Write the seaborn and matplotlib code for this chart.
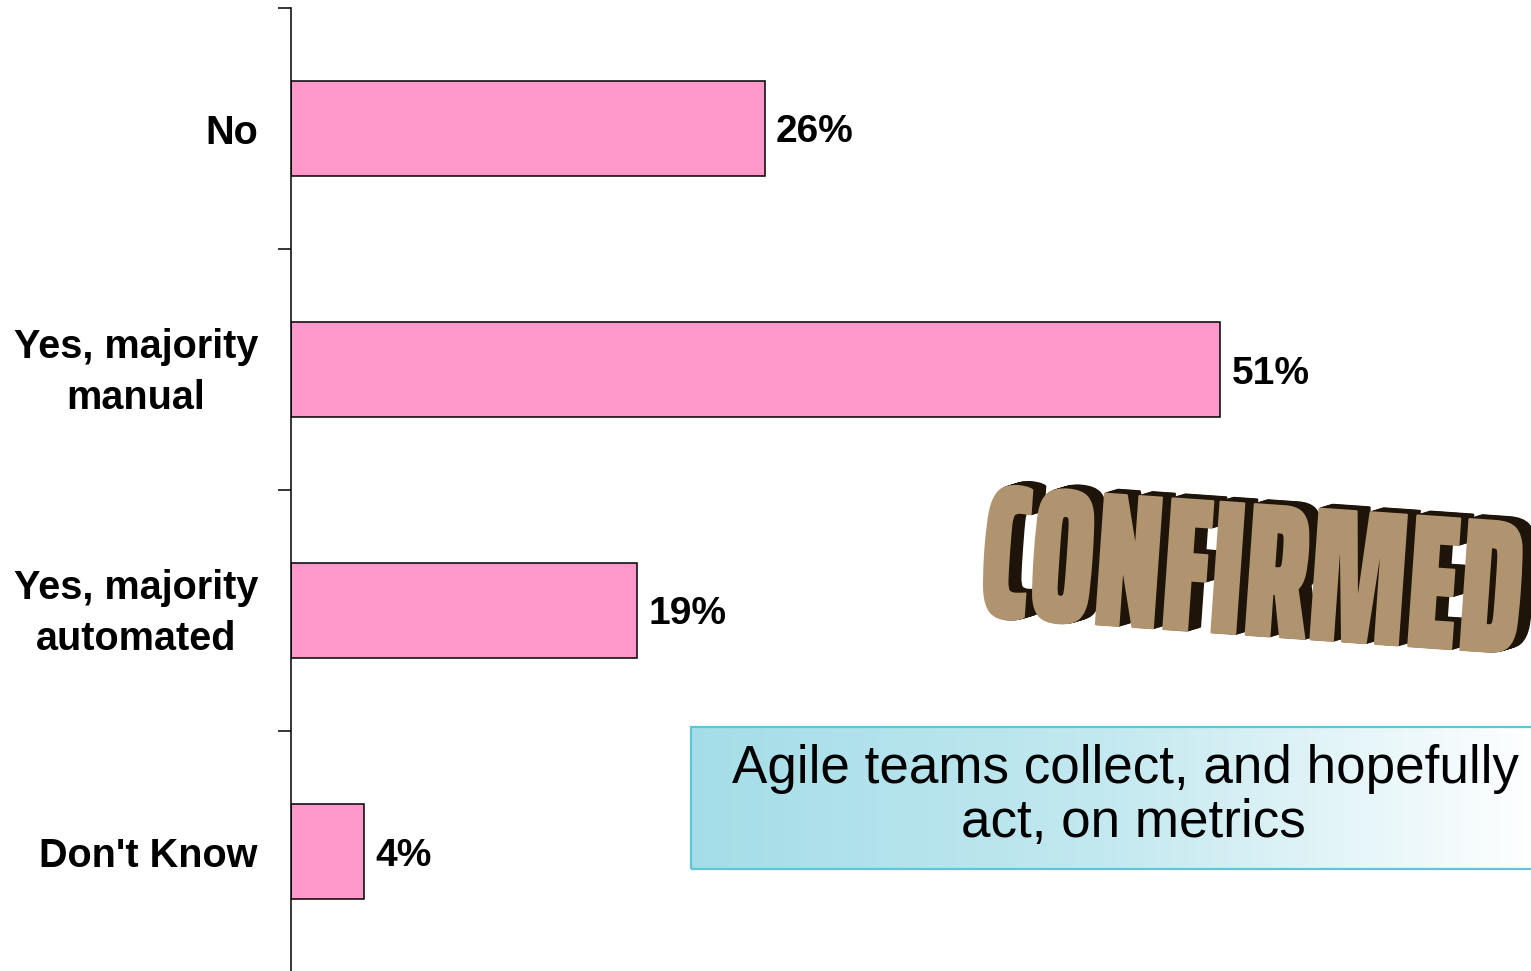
import numpy as np
import matplotlib
matplotlib.use("Agg")
import matplotlib.pyplot as plt
import seaborn as sns
from matplotlib import patheffects
from matplotlib.colors import LinearSegmentedColormap, to_rgba
from matplotlib.font_manager import FontProperties
from matplotlib.patches import Rectangle
from matplotlib.textpath import TextPath
from matplotlib.transforms import Affine2D, ScaledTranslation

# Survey answers and their shares (%)
categories = ["No", "Yes, majority\nmanual", "Yes, majority\nautomated", "Don't Know"]
shares = [26, 51, 19, 4]
value_labels = [f"{v}%" for v in shares]
callout_text = "Agile teams collect, and hopefully \nact, on metrics"
stamp_text = "CONFIRMED"

W, H, DPI = 1531, 971, 100
BAR_COLOR = "#ff99cc"

sns.set_theme(style="white")
plt.rcParams["font.family"] = ["Liberation Sans", "DejaVu Sans"]

fig = plt.figure(figsize=(W / DPI, H / DPI), dpi=DPI)
fig.patch.set_facecolor("white")

# ---- bar chart -------------------------------------------------------------
ax = fig.add_axes([291 / W, -1 / H, 1 - 291 / W, 964 / H])
sns.barplot(x=shares, y=categories, orient="h", color=BAR_COLOR, saturation=1,
            width=95 / 241, edgecolor="black", linewidth=1.1, ax=ax)
ax.set_xlim(0, (W - 291) / 18.22)
ax.set_ylim(3.5, -0.5)
ax.set_xlabel("")
ax.set_ylabel("")

for side in ("top", "right", "bottom"):
    ax.spines[side].set_visible(False)
ax.spines["left"].set_color("black")
ax.spines["left"].set_linewidth(1.1)

ax.tick_params(axis="x", bottom=False, labelbottom=False)
ax.set_yticks(np.arange(-0.5, len(categories)), minor=True)
ax.tick_params(axis="y", which="minor", left=True, length=9.4, width=1.1,
               color="black", direction="out")
ax.tick_params(axis="y", which="major", left=False, length=0, pad=23.8)
for lab in ax.get_yticklabels():
    lab.set_fontsize(28.5)
    lab.set_fontweight("bold")
    lab.set_color("black")
    lab.set_multialignment("center")
    lab.set_linespacing(1.45)
    if "\n" in lab.get_text():
        lab.set_verticalalignment("center")
        lab.set_transform(lab.get_transform()
                          + ScaledTranslation(0, -3 / DPI, fig.dpi_scale_trans))

for ann in ax.bar_label(ax.containers[0], labels=value_labels, padding=8.2,
                        fontsize=28, fontweight="bold", color="black"):
    ann.set_verticalalignment("center_baseline")

# ---- callout box with a cyan-to-white fade --------------------------------
bx0, by0, bx1, by1 = 691, 727, 1540, 869
box_ax = fig.add_axes([bx0 / W, 1 - by1 / H, (bx1 - bx0) / W, (by1 - by0) / H])
fade = LinearSegmentedColormap.from_list("fade", ["#a4dde8", "#c4e9f0", "#ffffff"])
box_ax.imshow(np.linspace(0, 1, 512)[None, :], aspect="auto", cmap=fade,
              extent=[0, 1, 0, 1])
box_ax.set_xlim(0, 1)
box_ax.set_ylim(0, 1)
box_ax.set_axis_off()
box_ax.add_patch(Rectangle((0, 0), 1, 1, transform=box_ax.transAxes, fill=False,
                           edgecolor="#5ec6d6", linewidth=1.6, clip_on=False))
fig.text(1133 / W, 1 - 796 / H, callout_text, ha="center", va="center",
         fontsize=38.2, linespacing=1.1, color="black", multialignment="center")


# ---- "CONFIRMED" stamp: condensed, extruded lettering ---------------------
class Stretched(patheffects.AbstractPathEffect):
    """Draw glyph outlines scaled in glyph space, thickened and shifted."""

    def __init__(self, sx, sy, shift=(0, 0), color="black", thicken=0.0):
        super().__init__(offset=(0, 0))
        self.sx, self.sy = sx, sy
        self.shift = shift
        self.rgba = to_rgba(color)
        self.thicken = thicken

    def draw_path(self, renderer, gc, tpath, affine, rgbFace=None):
        gc0 = renderer.new_gc()
        gc0.copy_properties(gc)
        gc0.set_linewidth(self.thicken)
        gc0.set_foreground(self.rgba)
        gc0.set_joinstyle("round")
        t = (Affine2D().scale(self.sx, self.sy) + affine
             + Affine2D().translate(*self.shift))
        renderer.draw_path(gc0, tpath, t, self.rgba)
        gc0.restore()


stamp_family = ["Saira ExtraCondensed", "Barlow Condensed",
                "Liberation Sans Narrow", "Liberation Sans", "DejaVu Sans"]
STAMP_W, STAMP_H = 536, 134          # ink size of the lettering, pixels
ref_prop = FontProperties(family=stamp_family, weight="black", size=100)
ink = TextPath((0, 0), stamp_text, prop=ref_prop).get_extents()
px_per_unit = DPI / 72
stamp_size = 100 * STAMP_W / (ink.width * px_per_unit)
sy = STAMP_H / (ink.height * stamp_size / 100 * px_per_unit)

STAMP_TOP = "#b09470"
STAMP_SIDE = "#1f1409"
effects = [Stretched(1.0, sy, shift=(k * 1.0, k * 0.3), color=STAMP_SIDE,
                     thicken=1.5) for k in range(1, 14)]
effects.append(Stretched(1.0, sy, color=STAMP_TOP, thicken=1.5))
fig.text(977 / W, 1 - 616 / H, stamp_text, fontsize=stamp_size,
         fontweight="black", family=stamp_family, rotation=-4,
         rotation_mode="anchor", ha="left", va="baseline",
         color=STAMP_TOP, path_effects=effects)

fig.savefig("out.png", dpi=DPI, facecolor="white")
